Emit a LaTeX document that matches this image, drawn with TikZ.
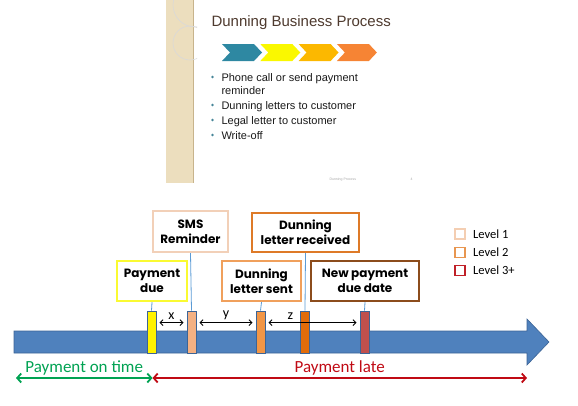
\documentclass[tikz,border=0pt]{standalone}
\usepackage{fontspec}
\setmainfont{Carlito}
\newfontfamily\slidefont{Liberation Sans}
\newfontfamily\boxfont{Poppins}
\usepackage{xcolor}
\usepackage{tikz}
\usetikzlibrary{arrows.meta}

\definecolor{stripe}{RGB}{236,222,190}
\definecolor{stripeline}{RGB}{200,180,140}
\definecolor{titlecol}{RGB}{78,58,46}
\definecolor{chevA}{RGB}{46,136,162}
\definecolor{chevB}{RGB}{250,248,0}
\definecolor{chevC}{RGB}{252,184,0}
\definecolor{chevD}{RGB}{246,132,52}
\definecolor{axisblue}{RGB}{79,129,189}
\definecolor{axisedge}{RGB}{60,100,150}
\definecolor{linkblue}{RGB}{91,155,213}
\definecolor{lvlone}{RGB}{244,206,178}
\definecolor{lvltwo}{RGB}{232,150,80}
\definecolor{lvlthree}{RGB}{192,32,40}
\definecolor{duecol}{RGB}{250,250,50}
\definecolor{smscol}{RGB}{242,208,184}
\definecolor{sentcol}{RGB}{240,160,92}
\definecolor{reccol}{RGB}{222,122,40}
\definecolor{newcol}{RGB}{140,76,28}
\definecolor{ontime}{RGB}{0,162,82}
\definecolor{late}{RGB}{192,10,20}

\tikzset{
  tbox/.style={draw,line width=2.4pt,fill=white,align=center,inner sep=2pt,
    font=\boxfont\bfseries\fontsize{12}{15}\selectfont},
  marker/.style={draw=axisedge,line width=0.8pt,minimum width=9,minimum height=42,inner sep=0pt},
  link/.style={draw=linkblue,line width=0.8pt},
  gap/.style={line width=0.9pt,{Straight Barb[length=3pt,width=6pt]}-{Straight Barb[length=3pt,width=6pt]}},
  span/.style={line width=1.8pt,{Straight Barb[length=4pt,width=9pt]}-{Straight Barb[length=4pt,width=9pt]}},
  lvl/.style={draw,line width=1.4pt,minimum size=10,inner sep=0pt},
  bline/.style={anchor=base west,text=black!90,font=\slidefont\fontsize{11}{13}\selectfont}
}

\begin{document}
\begin{tikzpicture}[x=1pt,y=-1pt]
            \useasboundingbox (0,0) rectangle (578,405);

            %%% SLIDE %%%
            \fill[stripe] (166,0) rectangle (193,183);
            \draw[stripeline,line width=0.8pt] (193,0)--(193,183);
            \begin{scope}
                \clip (160,0) rectangle (197,62);
                \draw[white!70!gray,line width=0.6pt] (195,5) circle (22);
                \draw[white!70!gray,line width=0.6pt] (190,43) circle (17);
            \end{scope}
            \node[anchor=base west,text=titlecol,font=\slidefont\fontsize{15}{18}\selectfont] (title) at (208,26) {Dunning Business Process};
            \foreach \c [count=\i from 0] in {chevA,chevB,chevC,chevD}
                \fill[\c] ({222+38.3*\i},44) -- ++(32,0) -- ++(8,8.5) -- ++(-8,8.5) -- ++(-32,0) -- ++(8,-8.5) -- cycle;
            \node[bline] (b1) at (218,81) {Phone call or send payment};
            \node[bline] (b1b) at (218,94) {reminder};
            \node[bline] (b2) at (218,109) {Dunning letters to customer};
            \node[bline] (b3) at (218,124) {Legal letter to customer};
            \node[bline] (b4) at (218,139) {Write-off};
            \foreach \y in {77,105,120,135}
                \fill[chevA!70!gray] (212.5,\y) circle (1.4);
            \node[anchor=base west,text=black!35,font=\slidefont\fontsize{3.5}{4}\selectfont] (foot) at (326,180) {Dunning Process};
            \node[anchor=base west,text=black!35,font=\slidefont\fontsize{3.5}{4}\selectfont] (pnum) at (407,180) {4};

            %%% TIME AXIS %%%
            \draw[fill=axisblue,draw=axisedge,line width=0.6pt] (14,331) -- (527,331) -- (527,319) -- (549,342) -- (527,365) -- (527,353) -- (14,353) -- cycle;

            %%% MARKERS %%%
            \node[marker,fill=yellow] (mdue) at (151.5,332) {};
            \node[marker,fill={rgb,255:red,244;green,177;blue,131}] (msms) at (191.5,332) {};
            \node[marker,fill={rgb,255:red,242;green,150;blue,70}] (msent) at (260.5,332) {};
            \node[marker,fill={rgb,255:red,226;green,108;blue,10}] (mrec) at (305,332) {};
            \node[marker,fill={rgb,255:red,192;green,80;blue,77}] (mnew) at (364.5,332) {};

            %%% BOXES %%%
            \node[tbox,draw=duecol,minimum width=70,minimum height=40] (pdue) at (152,281) {Payment\\due};
            \node[tbox,draw=smscol,minimum width=75,minimum height=41] (sms) at (190.5,231.5) {SMS\\Reminder};
            \node[tbox,draw=sentcol,minimum width=79,minimum height=40] (dsent) at (261.5,281) {Dunning\\letter sent};
            \node[tbox,draw=reccol,minimum width=107,minimum height=39] (drec) at (305.5,232.5) {Dunning\\letter received};
            \node[tbox,draw=newcol,minimum width=108,minimum height=40] (newdue) at (365,281) {New payment\\due date};

            %%% LINKS %%%
            \draw[link] (pdue.south) -- (mdue.north);
            \draw[link] (sms.south) -- (msms.north);
            \draw[link] (dsent.south) -- (msent.north);
            \draw[link] (drec.south) -- (mrec.north);
            \draw[link] (newdue.south) -- (mnew.north);

            %%% GAPS %%%
            \draw[gap] ([shift={(3,12)}]mdue.north east) -- node[above=-1pt,font=\fontsize{14}{16}\selectfont]{x} ([shift={(-3,12)}]msms.north west);
            \draw[gap] ([shift={(3,12)}]msms.north east) -- node[above=-1pt,font=\fontsize{14}{16}\selectfont]{y} ([shift={(-3,12)}]msent.north west);
            \draw[gap] ([shift={(3,12)}]msent.north east) -- node[pos=0.25,above=-1pt,font=\fontsize{14}{16}\selectfont]{z} ([shift={(-3,12)}]mnew.north west);

            %%% PERIODS %%%
            \coordinate (start) at (16,378);
            \coordinate (split) at (152.5,378);
            \coordinate (stop) at (527,378);
            \draw[span,draw=ontime] (start) -- node[above=-1.5pt,text=ontime,font=\fontsize{17}{20}\selectfont]{Payment on time} (split);
            \draw[span,draw=late] (split) -- node[above=-1.5pt,text=late,font=\fontsize{17}{20}\selectfont]{Payment late} (stop);

            %%% LEGEND %%%
            \node[lvl,draw=lvlone] (l1) at (460,234) {};
            \node[lvl,draw=lvltwo] (l2) at (460,252.5) {};
            \node[lvl,draw=lvlthree] (l3) at (460,270.5) {};
            \node[right=4pt,font=\fontsize{12.5}{14}\selectfont] at (l1.east) {Level 1};
            \node[right=4pt,font=\fontsize{12.5}{14}\selectfont] at (l2.east) {Level 2};
            \node[right=4pt,font=\fontsize{12.5}{14}\selectfont] at (l3.east) {Level 3+};
        \end{tikzpicture}
\end{document}
